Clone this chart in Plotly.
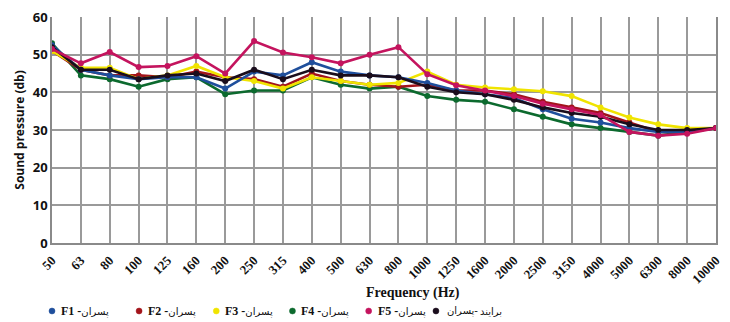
import plotly.graph_objects as go

freqs = ["50", "63", "80", "100", "125", "160", "200", "250", "315", "400", "500", "630",
         "800", "1000", "1250", "1600", "2000", "2500", "3150", "4000", "5000", "6300", "8000", "10000"]

f1 = [52.5, 46, 44.5, 43.5, 44, 44, 41, 45.5, 44.5, 48, 45.5, 44.5,
      44, 42.5, 40.5, 39.5, 38.5, 35.5, 33, 32, 30.5, 29.5, 29.5, 30.5]
f2 = [51, 46, 44.5, 44.5, 44, 45.5, 44, 43.5, 41.5, 45, 43, 42,
      41.5, 42, 40.5, 40.5, 39.5, 37.5, 36, 34.5, 32, 29.5, 29.5, 30.5]
f3 = [51, 46.5, 46.5, 43.5, 44.5, 47, 44, 43, 41, 44, 43, 42,
      42.5, 45.5, 42, 41.3, 40.8, 40.3, 39, 36, 33.3, 31.5, 30.5, 30.5]
f4 = [53, 44.5, 43.5, 41.5, 43.5, 44, 39.5, 40.5, 40.5, 44, 42, 41,
      41.5, 39, 38, 37.5, 35.5, 33.5, 31.5, 30.5, 29.5, 28.5, 29.5, 30.5]
f5 = [51.5, 47.7, 50.7, 46.7, 47, 49.6, 45, 53.6, 50.6, 49.3, 47.7, 50,
      52, 44.8, 41.9, 40.5, 39, 37, 35.5, 34, 29.5, 28.5, 29, 30.5]
avg = [52, 46, 46, 43.5, 44.5, 45, 43, 46, 43.5, 46, 44.5, 44.5,
       44, 41.5, 40, 39.5, 38, 36, 34.5, 33.5, 31.5, 30, 30, 30.5]

# legend labels split into visual pieces (left to right)
legend_parts = [["<b>F1 -</b>", "پسران"], ["<b>F2 -</b>", "پسران"], ["<b>F3 -</b>", "پسران"],
                ["<b>F4 -</b>", "پسران"], ["<b>F5 -</b>", "پسران"], ["پسران-", "برایند"]]
colors = ["#1f4f9c", "#a3141b", "#f0e400", "#0c6a2e", "#c4145e", "#1a0d1c"]
series = [f1, f2, f3, f4, f5, avg]

fig = go.Figure()
draw_order = [3, 1, 2, 0, 5, 4]
for i in draw_order:
    fig.add_trace(go.Scatter(
        x=freqs, y=series[i], mode="lines+markers", showlegend=False,
        line=dict(color=colors[i], width=2.6),
        marker=dict(color=colors[i], size=6),
    ))

# manual legend (markers + labels) placed below the axis
plot_left, plot_w, plot_bottom, plot_h = 52, 671, 243, 226
legend_x_px = [52, 140, 218, 295, 372, 440]
legend_y = (plot_bottom - 311) / plot_h
shapes, annotations = [], []
for i in range(6):
    xp = (legend_x_px[i] - plot_left) / plot_w
    shapes.append(dict(
        type="circle", xref="paper", yref="paper",
        xsizemode="pixel", ysizemode="pixel", xanchor=xp, yanchor=legend_y,
        x0=-3, x1=3, y0=-3, y1=3,
        fillcolor=colors[i], line=dict(color=colors[i], width=0.5),
    ))
    first, second = legend_parts[i]
    if i < 5:
        label = first + "<span style='font-size:10px'>" + second + "</span>"
        annotations.append(dict(
            text=label, xref="paper", yref="paper",
            x=(legend_x_px[i] + 7 - plot_left) / plot_w, y=legend_y,
            xanchor="left", yanchor="middle", showarrow=False,
            font=dict(family="Liberation Serif, DejaVu Sans", size=12, color="#111"),
        ))
    else:
        for txt, px in ((first, legend_x_px[i] + 9), (second, legend_x_px[i] + 42)):
            annotations.append(dict(
                text=txt, xref="paper", yref="paper",
                x=(px - plot_left) / plot_w, y=legend_y,
                xanchor="left", yanchor="middle", showarrow=False,
                font=dict(family="DejaVu Sans", size=10, color="#111"),
            ))
annotations.append(dict(
    text="<b>Frequency (Hz)</b>", xref="paper", yref="paper",
    x=(417 - plot_left) / plot_w, y=(plot_bottom - 293) / plot_h,
    xanchor="center", yanchor="middle", showarrow=False,
    font=dict(family="Liberation Serif", size=14, color="#111"),
))

fig.update_layout(
    width=730, height=322,
    margin=dict(l=52, r=7, t=17, b=79),
    plot_bgcolor="white", paper_bgcolor="white",
    showlegend=False, shapes=shapes, annotations=annotations,
)

fig.update_xaxes(
    type="category", range=[0, 23], tickangle=-45,
    showgrid=True, gridcolor="#9a9a9a", gridwidth=1.5,
    showline=True, linecolor="#8a8a8a", linewidth=1.5,
    ticks="", ticklabelstandoff=3,
    tickfont=dict(family="Liberation Serif", size=13, color="#111", weight="bold"),
)
fig.update_yaxes(
    range=[0, 60], dtick=10,
    showgrid=True, gridcolor="#9a9a9a", gridwidth=1.5,
    showline=True, linecolor="#8a8a8a", linewidth=1.5, mirror=True,
    zeroline=False,
    tickfont=dict(family="Open Sans", size=13, color="#111", weight="bold"),
    title=dict(text="<b>Sound pressure (db)</b>", font=dict(family="Open Sans", size=12, color="#111"), standoff=6),
)

fig.write_html("out.html")
